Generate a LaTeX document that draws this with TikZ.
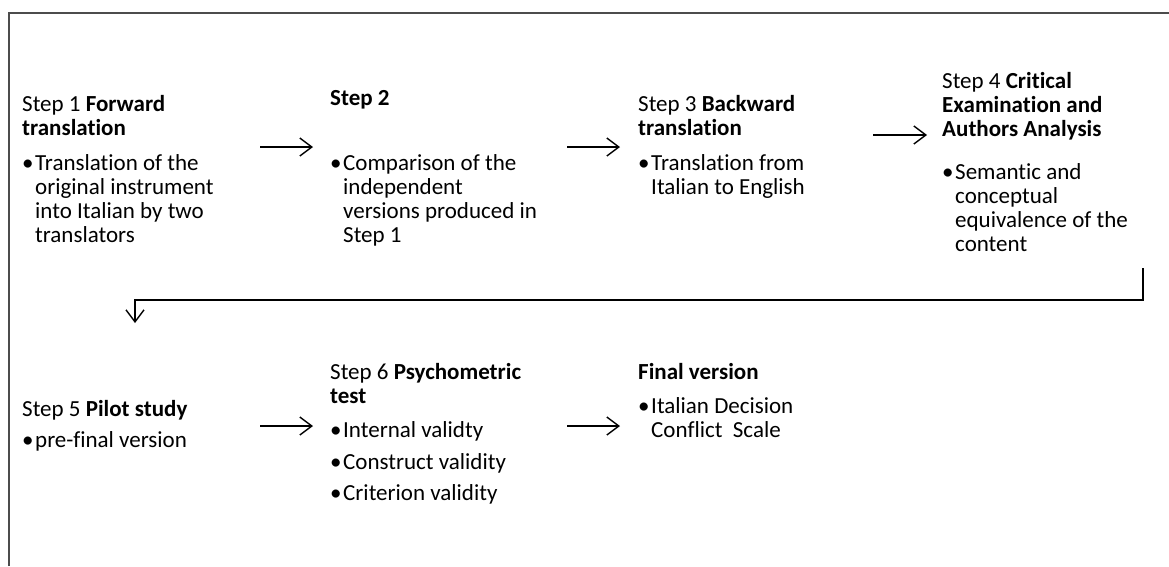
\documentclass[tikz,border=0pt]{standalone}
\usepackage{fontspec}
\setmainfont{Carlito}[Ligatures={NoCommon}]
\usetikzlibrary{arrows.meta}
\newcommand\mybul{\makebox[13pt][l]{•}}
\newcommand\myind{\makebox[13pt][l]{}}
\begin{document}
\begin{tikzpicture}[x=1pt,y=-1pt,
  txt/.style={anchor=base west, inner sep=0pt, align=left, font=\fontsize{23}{24}\selectfont},
  flow/.style={-{Straight Barb[length=12pt,width=18pt,line width=1.4pt]}, line width=1.4pt},
  frame/.style={line width=1.3pt, black!70}]
\useasboundingbox (0,0) rectangle (1169,566);
\draw[frame] (9,566) -- (9,13) -- (1169,13);

% row 1 (anchor = baseline of the last line)
\node[txt] (h1) at (22,135) {Step 1 \textbf{Forward}\\\textbf{translation}};
\node[txt] (b1) at (22,242) {\mybul Translation of the\\\myind original instrument\\\myind into Italian by two\\\myind translators};
\node[txt] (h2) at (330,105) {\textbf{Step 2}};
\node[txt] (b2) at (330,242) {\mybul Comparison of the\\\myind independent\\\myind versions produced in\\\myind Step 1};
\node[txt] (h3) at (638,135) {Step 3 \textbf{Backward}\\\textbf{translation}};
\node[txt] (b3) at (638,194) {\mybul Translation from\\\myind Italian to English};
\node[txt] (h4) at (942,136) {Step 4 \textbf{Critical}\\\textbf{Examination and}\\\textbf{Authors Analysis}};
\node[txt] (b4) at (942,251) {\mybul Semantic and\\\myind conceptual\\\myind equivalence of the\\\myind content};

% row 2
\node[txt] (h5) at (22,416) {Step 5 \textbf{Pilot study}};
\node[txt] (b5) at (22,447) {\mybul pre-final version};
\node[txt] (h6) at (330,403) {Step 6 \textbf{Psychometric}\\\textbf{test}};
\node[txt] (b6) at (330,500) {\mybul Internal validty\\[8pt]\mybul Construct validity\\[7pt]\mybul Criterion validity};
\node[txt] (h7) at (638,379) {\textbf{Final version}};
\node[txt] (b7) at (638,437) {\mybul Italian Decision\\\myind Conflict\ \ Scale};

% connectors
\coordinate (a1s) at (260,147); \coordinate (a1e) at (313,147);
\coordinate (a2s) at (567,147); \coordinate (a2e) at (620,147);
\coordinate (a3s) at (873,135); \coordinate (a3e) at (927,135);
\coordinate (a5s) at (260,426); \coordinate (a5e) at (313,426);
\coordinate (a6s) at (567,426); \coordinate (a6e) at (620,426);
\coordinate (e1) at (1143,268); \coordinate (e2) at (135,323);
\draw[flow] (a1s) -- (a1e);
\draw[flow] (a2s) -- (a2e);
\draw[flow] (a3s) -- (a3e);
\draw[flow] (a5s) -- (a5e);
\draw[flow] (a6s) -- (a6e);
\draw[flow] (e1) -- (1143,300) -- (135,300) -- (e2);
\end{tikzpicture}
\end{document}
